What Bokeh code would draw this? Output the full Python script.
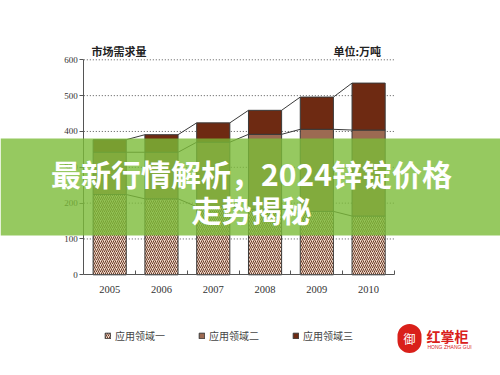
import numpy as np
from bokeh.plotting import figure
from bokeh.models import (Range1d, ColumnDataSource, BoxAnnotation, Label, Legend,
                          LegendItem, FixedTicker, LinearAxis)
from bokeh.embed import file_html
from bokeh.resources import INLINE

# ---- data ----
years = ["2005", "2006", "2007", "2008", "2009", "2010"]
field1 = [224, 212, 190, 183, 177, 164]
field2 = [118, 130, 180, 209, 229, 240]
field3 = [35, 49, 54, 67, 90, 131]
y_ticks = [0, 100, 200, 300, 400, 500, 600]
series_names = ["应用领域一", "应用领域二", "应用领域三"]
chart_title = "市场需求量"
unit_text = "单位:万吨"
banner_lines = ["最新行情解析，2024锌锭价格", "走势揭秘"]
logo_text = "红掌柜"
logo_sub = "HONG ZHANG GUI"

# ---- layout (pixels) ----
W, H = 500, 375
AX_L, AX_R = 83.3, 394.0      # x extent of the plotting area on the canvas
Y0_PX, Y600_PX = 274.3, 59.3  # canvas y of value 0 and of value 600
BAR_W = 0.64
colors = ["#f0d9c9", "#9c6a52", "#6e2a12"]
CJK = "Noto Sans CJK SC"
SERIF = "Liberation Serif"

ncat = len(years)
x_pos = [i + 0.5 for i in range(ncat)]
px_per_x = (AX_R - AX_L) / ncat
px_per_y = (Y0_PX - Y600_PX) / y_ticks[-1]

p = figure(width=W, height=H, output_backend="svg", toolbar_location=None,
           x_range=Range1d(-AX_L / px_per_x, (W - AX_L) / px_per_x),
           y_range=Range1d(-(H - Y0_PX) / px_per_y, Y0_PX / px_per_y),
           x_axis_location=None, y_axis_location=None,
           min_border=0, min_border_left=0, min_border_right=0,
           min_border_top=0, min_border_bottom=0)
p.outline_line_color = None
p.background_fill_color = "white"
p.border_fill_color = "white"
p.grid.visible = False

# dotted horizontal grid lines
gs = ColumnDataSource(dict(y=y_ticks[1:], x0=[0] * (len(y_ticks) - 1),
                           x1=[ncat] * (len(y_ticks) - 1)))
p.segment(x0="x0", y0="y", x1="x1", y1="y", source=gs,
          line_color="#555555", line_width=1, line_dash="1 2")

# stacked bars
src = ColumnDataSource(dict(x=x_pos, f1=field1, f2=field2, f3=field3))
rs = p.vbar_stack(["f1", "f2", "f3"], x="x", width=BAR_W, source=src,
                  fill_color=colors, line_color="#3a3a3a", line_width=1,
                  hatch_pattern=["/", " ", " "], hatch_color="#6b3b28",
                  hatch_scale=4, hatch_weight=1)

# connecting lines between bar tops
t1 = np.array(field1)
t2 = t1 + np.array(field2)
t3 = t2 + np.array(field3)
xa = [x + BAR_W / 2 for x in x_pos[:-1]]
xb = [x - BAR_W / 2 for x in x_pos[1:]]
for tops in (t1, t2, t3):
    s = ColumnDataSource(dict(x0=xa, x1=xb, y0=list(tops[:-1]), y1=list(tops[1:])))
    p.segment(x0="x0", y0="y0", x1="x1", y1="y1", source=s,
              line_color="#3a3a3a", line_width=1)

# axes drawn at fixed locations inside the frame
yax = LinearAxis(fixed_location=0, bounds=(0, y_ticks[-1]),
                 ticker=FixedTicker(ticks=y_ticks))
yax.axis_line_color = "#555555"
yax.major_tick_line_color = "#555555"
yax.major_tick_out = 4
yax.major_tick_in = 0
yax.minor_tick_line_color = None
yax.major_label_text_font = SERIF
yax.major_label_text_font_size = "9px"
yax.major_label_text_color = "#333333"
yax.major_label_standoff = 2
p.add_layout(yax, "left")

xax = LinearAxis(fixed_location=0, bounds=(0, ncat),
                 ticker=FixedTicker(ticks=x_pos, minor_ticks=list(range(1, ncat + 1))),
                 major_label_overrides={x: y for x, y in zip(x_pos, years)})
xax.axis_line_color = "#555555"
xax.major_tick_line_color = None
xax.major_tick_out = 0
xax.major_tick_in = 0
xax.minor_tick_line_color = "#555555"
xax.minor_tick_in = 4
xax.minor_tick_out = 0
xax.major_label_text_font = SERIF
xax.major_label_text_font_size = "10.5px"
xax.major_label_text_color = "#333333"
xax.major_label_standoff = 11
p.add_layout(xax, "below")

# titles
p.add_layout(Label(x=91, y=50, x_units="canvas", y_units="canvas", text=chart_title,
                   text_font=CJK, text_font_size="11px", text_font_style="bold",
                   text_color="#222222", text_baseline="middle"))
p.add_layout(Label(x=333, y=50, x_units="canvas", y_units="canvas", text=unit_text,
                   text_font=CJK, text_font_size="11px", text_font_style="bold",
                   text_color="#222222", text_baseline="middle"))

# legend
legend = Legend(items=[LegendItem(label=n, renderers=[r]) for n, r in zip(series_names, rs)],
                orientation="horizontal", location=(104, 32),
                glyph_width=7, glyph_height=7, label_standoff=4, spacing=33,
                label_text_font=CJK, label_text_font_size="10px",
                label_text_color="#444444", background_fill_alpha=0,
                border_line_color=None, padding=0, margin=0)
p.add_layout(legend, "center")

# logo
p.add_layout(Label(x=409, y=338, x_units="canvas", y_units="canvas", text="御",
                   text_font=CJK, text_font_size="12px", text_color="white",
                   text_align="center", text_baseline="middle",
                   background_fill_color="#d9201a", padding=6, border_radius=12))
p.add_layout(Label(x=426, y=335, x_units="canvas", y_units="canvas", text=logo_text,
                   text_font=CJK, text_font_size="14px", text_font_style="bold",
                   text_color="#d9201a", text_baseline="middle"))
p.add_layout(Label(x=427, y=346, x_units="canvas", y_units="canvas", text=logo_sub,
                   text_font="Liberation Sans", text_font_size="5px",
                   text_color="#d9201a", text_baseline="middle"))

# green banner with headline
p.add_layout(BoxAnnotation(left=0, right=W, top=138, bottom=235,
                           left_units="canvas", right_units="canvas",
                           top_units="canvas", bottom_units="canvas",
                           fill_color="#7cbb38", fill_alpha=0.8, line_color=None))
for txt, yy in zip(banner_lines, [172, 208]):
    p.add_layout(Label(x=251, y=yy, x_units="canvas", y_units="canvas", text=txt,
                       text_font=CJK, text_font_size="30px", text_font_style="bold",
                       text_color="white", text_align="center", text_baseline="middle"))

open("out.html", "w").write(file_html(p, INLINE))
